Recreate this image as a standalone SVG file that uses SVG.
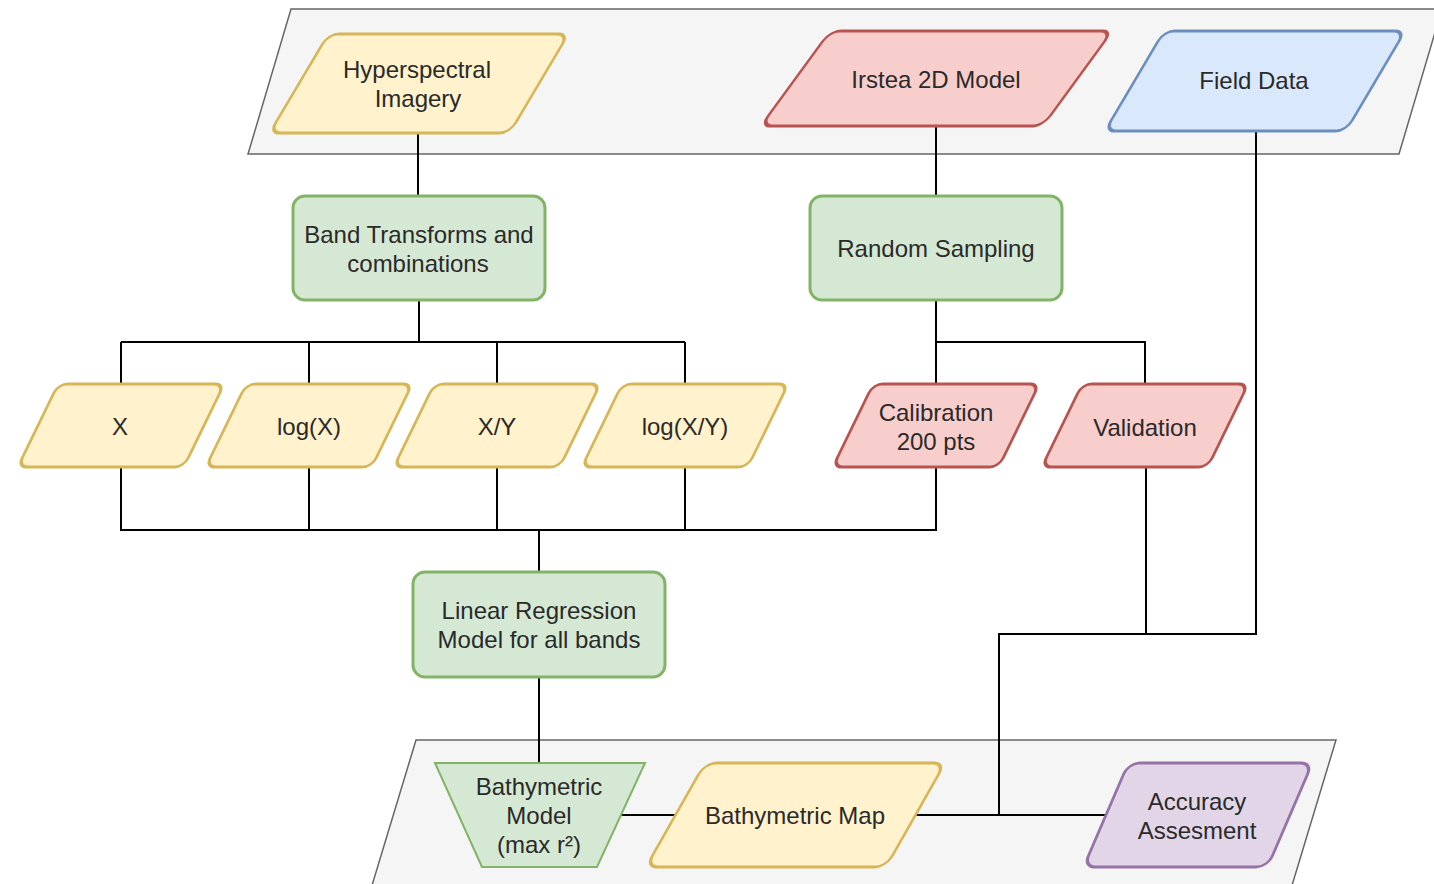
<svg xmlns="http://www.w3.org/2000/svg" width="1434" height="884" viewBox="0 0 1434 884">
<style>
.bg{fill:#f5f5f5;stroke:#666666;stroke-width:1.5}
.y{fill:#fff2cc;stroke:#d6b656;stroke-width:3}
.r{fill:#f8cecc;stroke:#b85450;stroke-width:3}
.b{fill:#dae8fc;stroke:#6c8ebf;stroke-width:3}
.g{fill:#d5e8d4;stroke:#82b366;stroke-width:3}
.p{fill:#e1d5e7;stroke:#9673a6;stroke-width:3}
.t{font-family:"Liberation Sans",Arial,sans-serif;font-size:24px;fill:#2a2a2a;text-anchor:middle}
.c{fill:none;stroke:#000000;stroke-width:2}
</style>
<rect width="1434" height="884" fill="#ffffff"/>
<g id="background">
<polygon class="bg" points="291,9 1442,9 1399,154 248,154"/>
<polygon class="bg" points="416,740 1336,740 1290,892 370,892"/>
</g>
<g id="connectors">
<path class="c" d="M418,133 V196" stroke="#333"/>
<path class="c" d="M419,300 V342 M121,342 H685 M121,342 V384 M309,342 V384 M497,342 V384 M685,342 V384"/>
<path class="c" d="M936,126 V196"/>
<path class="c" d="M936,300 V384 M936,342 H1145 V384"/>
<path class="c" d="M121,467 V530 H936 V467 M309,467 V530 M497,467 V530 M685,467 V530 M539,530 V572"/>
<path class="c" d="M539,677 V763"/>
<path class="c" d="M621,815 H678"/>
<path class="c" d="M913,815 H1108"/>
<path class="c" d="M1146,467 V634 M1256,131 V634 H999 V815" />
</g>
<g id="hyperspectral">
<rect class="y" x="-120" y="-49.5" width="240" height="99" rx="10" transform="translate(419,83.5) skewX(-30.7)"/>
<text class="t" x="417" y="77.5">Hyperspectral</text>
<text class="t" x="418" y="106.5">Imagery</text>
</g>
<g id="irstea">
<rect class="r" x="-141" y="-47.5" width="282" height="95" rx="10" transform="translate(936.5,78.5) skewX(-36.15)"/>
<text class="t" x="936" y="87.5">Irstea 2D Model</text>
</g>
<g id="fielddata">
<rect class="b" x="-120.5" y="-50" width="241" height="100" rx="10" transform="translate(1255,81) skewX(-30.6)"/>
<text class="t" x="1254" y="88.5">Field Data</text>
</g>
<g id="band">
<rect class="g" x="293" y="196" width="252" height="104" rx="12"/>
<text class="t" x="419" y="242.5">Band Transforms and</text>
<text class="t" x="418" y="271.5">combinations</text>
</g>
<g id="random">
<rect class="g" x="810" y="196" width="252" height="104" rx="12"/>
<text class="t" x="936" y="257">Random Sampling</text>
</g>
<g id="x">
<rect class="y" x="-83" y="-41.5" width="166" height="83" rx="9" transform="translate(121,425.5) skewX(-25.95)"/>
<text class="t" x="120" y="434.5">X</text>
</g>
<g id="logx">
<rect class="y" x="-83" y="-41.5" width="166" height="83" rx="9" transform="translate(309,425.5) skewX(-25.95)"/>
<text class="t" x="309" y="434.5">log(X)</text>
</g>
<g id="xy">
<rect class="y" x="-83" y="-41.5" width="166" height="83" rx="9" transform="translate(497,425.5) skewX(-25.95)"/>
<text class="t" x="497" y="434.5">X/Y</text>
</g>
<g id="logxy">
<rect class="y" x="-83" y="-41.5" width="166" height="83" rx="9" transform="translate(685,425.5) skewX(-25.95)"/>
<text class="t" x="685" y="434.5">log(X/Y)</text>
</g>
<g id="calibration">
<rect class="r" x="-83" y="-41.5" width="166" height="83" rx="9" transform="translate(936,425.5) skewX(-25.95)"/>
<text class="t" x="936" y="420.5">Calibration</text>
<text class="t" x="936" y="449.5">200 pts</text>
</g>
<g id="validation">
<rect class="r" x="-83" y="-41.5" width="166" height="83" rx="9" transform="translate(1145,425.5) skewX(-25.95)"/>
<text class="t" x="1145" y="435.5">Validation</text>
</g>
<g id="linreg">
<rect class="g" x="413" y="572" width="252" height="105" rx="12"/>
<text class="t" x="539" y="618.5">Linear Regression</text>
<text class="t" x="539" y="648">Model for all bands</text>
</g>
<g id="bathymodel">
<polygon class="g" style="stroke-width:2" points="435,763 645,763 597,867 482,867"/>
<text class="t" x="539" y="794.5">Bathymetric</text>
<text class="t" x="539" y="823.5">Model</text>
<text class="t" x="539" y="853">(max r²)</text>
</g>
<g id="bathymap">
<rect class="y" x="-120" y="-52" width="240" height="104" rx="11" transform="translate(795.5,815) skewX(-29.57)"/>
<text class="t" x="795" y="823.5">Bathymetric Map</text>
</g>
<g id="accuracy">
<rect class="p" x="-92" y="-52" width="184" height="104" rx="11" transform="translate(1198,815) skewX(-23.3)"/>
<text class="t" x="1197" y="809.5">Accuracy</text>
<text class="t" x="1197" y="838.5">Assesment</text>
</g>
</svg>
